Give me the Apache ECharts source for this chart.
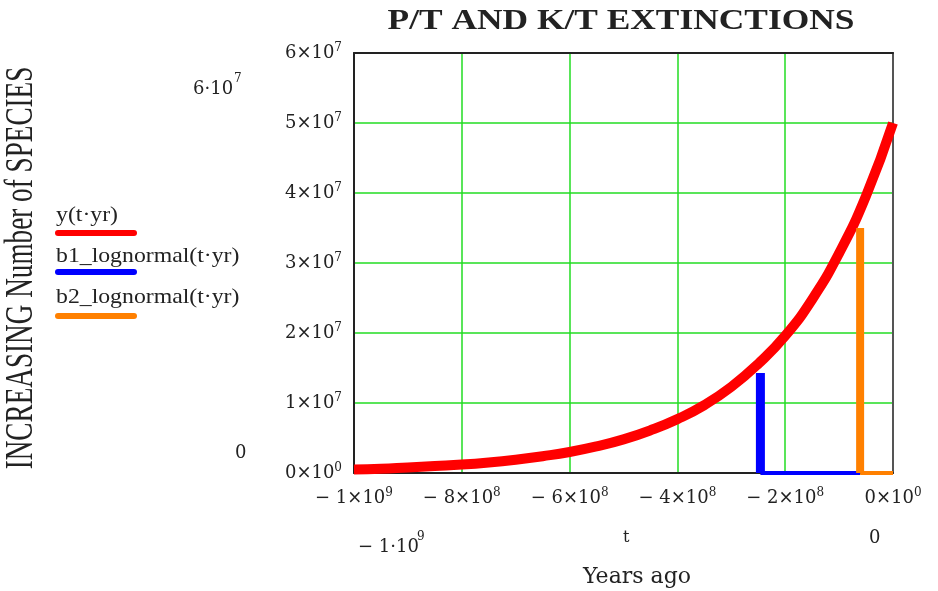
<!DOCTYPE html>
<html><head><meta charset="utf-8">
<script src="https://cdn.jsdelivr.net/npm/echarts@6/dist/echarts.min.js"></script>
<style>html,body{margin:0;padding:0;background:#fff}#c{width:938px;height:591px}</style>
</head><body><div id="c"></div>
<script>
// Years ago (t) and species counts
const tYears = [-1e9,-9.5e8,-9e8,-8.5e8,-8e8,-7.5e8,-7e8,-6.5e8,-6e8,-5.5e8,-5e8,-4.5e8,-4e8,-3.5e8,-3e8,-2.5e8,-2e8,-1.5e8,-1e8,-5e7,0];
const ySpecies = [0.5e6,0.6e6,0.8e6,1.0e6,1.2e6,1.5e6,1.9e6,2.4e6,3.0e6,3.8e6,4.8e6,6.1e6,7.7e6,9.7e6,12.3e6,15.6e6,19.6e6,24.8e6,31.4e6,39.6e6,50.0e6];
const b1T = [-2.46e8,-2.46e8,-6.1e7];
const b1V = [1.43e7,0,0];
const b2T = [-6.1e7,-6.1e7,0];
const b2V = [3.5e7,0,0];
const seriesNames = ['y(t\u00b7yr)','b1_lognormal(t\u00b7yr)','b2_lognormal(t\u00b7yr)'];
const seriesColors = ['#ff0000','#0000ff','#ff8000'];
const xTicks = {min:-1e9,max:0,interval:2e8};
const yTicks = {min:0,max:6e7,interval:1e7};

const zip = (a,b)=>a.map((v,i)=>[v,b[i]]);
const serif = '"Liberation Serif",serif';
const dserif = '"DejaVu Serif",serif';
function sci(v){
  if (v===0) return '0\u00d710{s|0}';
  const a=Math.abs(v); const e=Math.floor(Math.log10(a)+1e-9); const m=Math.round(a/Math.pow(10,e));
  return (v<0?'\u2212 ':'')+m+'\u00d710{s|'+e+'}';
}
const rich = {s:{fontSize:12,fontFamily:dserif,color:'#222',padding:[0,0,10,0]}};
const chart = echarts.init(document.getElementById('c'));
const legendGraphics = [];
seriesNames.forEach((n,i)=>{
  const ty=[215,256,297][i];
  legendGraphics.push({type:'text',x:56,y:ty,scaleX:1.08,style:{text:n,font:'22px '+serif,fill:'#222',verticalAlign:'middle'}});
  const ly=[233,272,316][i];
  legendGraphics.push({type:'line',shape:{x1:58,y1:ly,x2:134,y2:ly},style:{stroke:seriesColors[i],lineWidth:6,lineCap:'round'}});
});
const txt = (x,y,t,size,extra)=>Object.assign({type:'text',x:x,y:y,style:Object.assign({text:t,font:size+'px '+dserif,fill:'#222'},extra||{})});
const axisCommon = {axisTick:{show:false},splitLine:{show:true,lineStyle:{color:'#22dd22',width:1.5}}};
chart.setOption({
  animation:false,
  grid:{left:354,top:53,width:539,height:420},
  xAxis:[
    Object.assign({type:'value',min:xTicks.min,max:xTicks.max,interval:xTicks.interval,
      axisLine:{show:true,onZero:false,lineStyle:{color:'#222',width:2}},
      axisLabel:{margin:14,fontFamily:dserif,fontSize:18,color:'#222',formatter:v=>sci(v),rich:rich}},axisCommon),
    {type:'value',position:'top',min:xTicks.min,max:xTicks.max,axisLine:{show:true,onZero:false,lineStyle:{color:'#222',width:2}},axisTick:{show:false},axisLabel:{show:false},splitLine:{show:false}}
  ],
  yAxis:[
    Object.assign({type:'value',min:yTicks.min,max:yTicks.max,interval:yTicks.interval,
      axisLine:{show:true,onZero:false,lineStyle:{color:'#222',width:2}},
      axisLabel:{margin:12,fontFamily:dserif,fontSize:18,color:'#222',formatter:v=>sci(v),rich:rich}},axisCommon),
    {type:'value',position:'right',min:yTicks.min,max:yTicks.max,axisLine:{show:true,onZero:false,lineStyle:{color:'#555',width:2}},axisTick:{show:false},axisLabel:{show:false},splitLine:{show:false}}
  ],
  graphic:[
    ...legendGraphics,
    {type:'text',x:621,y:22,scaleX:1.22,style:{text:'P/T AND K/T EXTINCTIONS',font:'bold 29px '+serif,fill:'#222',align:'center',verticalAlign:'middle'}},
    {type:'text',x:21,y:268,rotation:Math.PI/2,scaleX:0.68,style:{text:'INCREASING Number of SPECIES',font:'40px '+serif,fill:'#222',align:'center',verticalAlign:'middle'}},
    txt(193,80,'6\u00b710',18),
    txt(234,73,'7',12),
    txt(235,444,'0',18),
    txt(358,538,'\u2212 1\u00b710',18),
    txt(417,531,'9',12),
    txt(623,530,'t',16),
    txt(869,529,'0',18),
    txt(637,577,'Years ago',22,{align:'center',verticalAlign:'middle'})
  ],
  series:[
    {name:seriesNames[0],type:'line',data:zip(tYears,ySpecies),smooth:true,showSymbol:false,lineStyle:{color:seriesColors[0],width:10},z:3},
    {name:seriesNames[1],type:'line',data:zip(b1T,b1V).slice(0,2),showSymbol:false,lineStyle:{color:seriesColors[1],width:9},z:4},
    {name:seriesNames[1],type:'line',data:zip(b1T,b1V).slice(1),showSymbol:false,lineStyle:{color:seriesColors[1],width:4},z:4},
    {name:seriesNames[2],type:'line',data:zip(b2T,b2V).slice(0,2),showSymbol:false,lineStyle:{color:seriesColors[2],width:8},z:4},
    {name:seriesNames[2],type:'line',data:zip(b2T,b2V).slice(1),showSymbol:false,lineStyle:{color:seriesColors[2],width:4},z:4}
  ]
});
</script></body></html>
